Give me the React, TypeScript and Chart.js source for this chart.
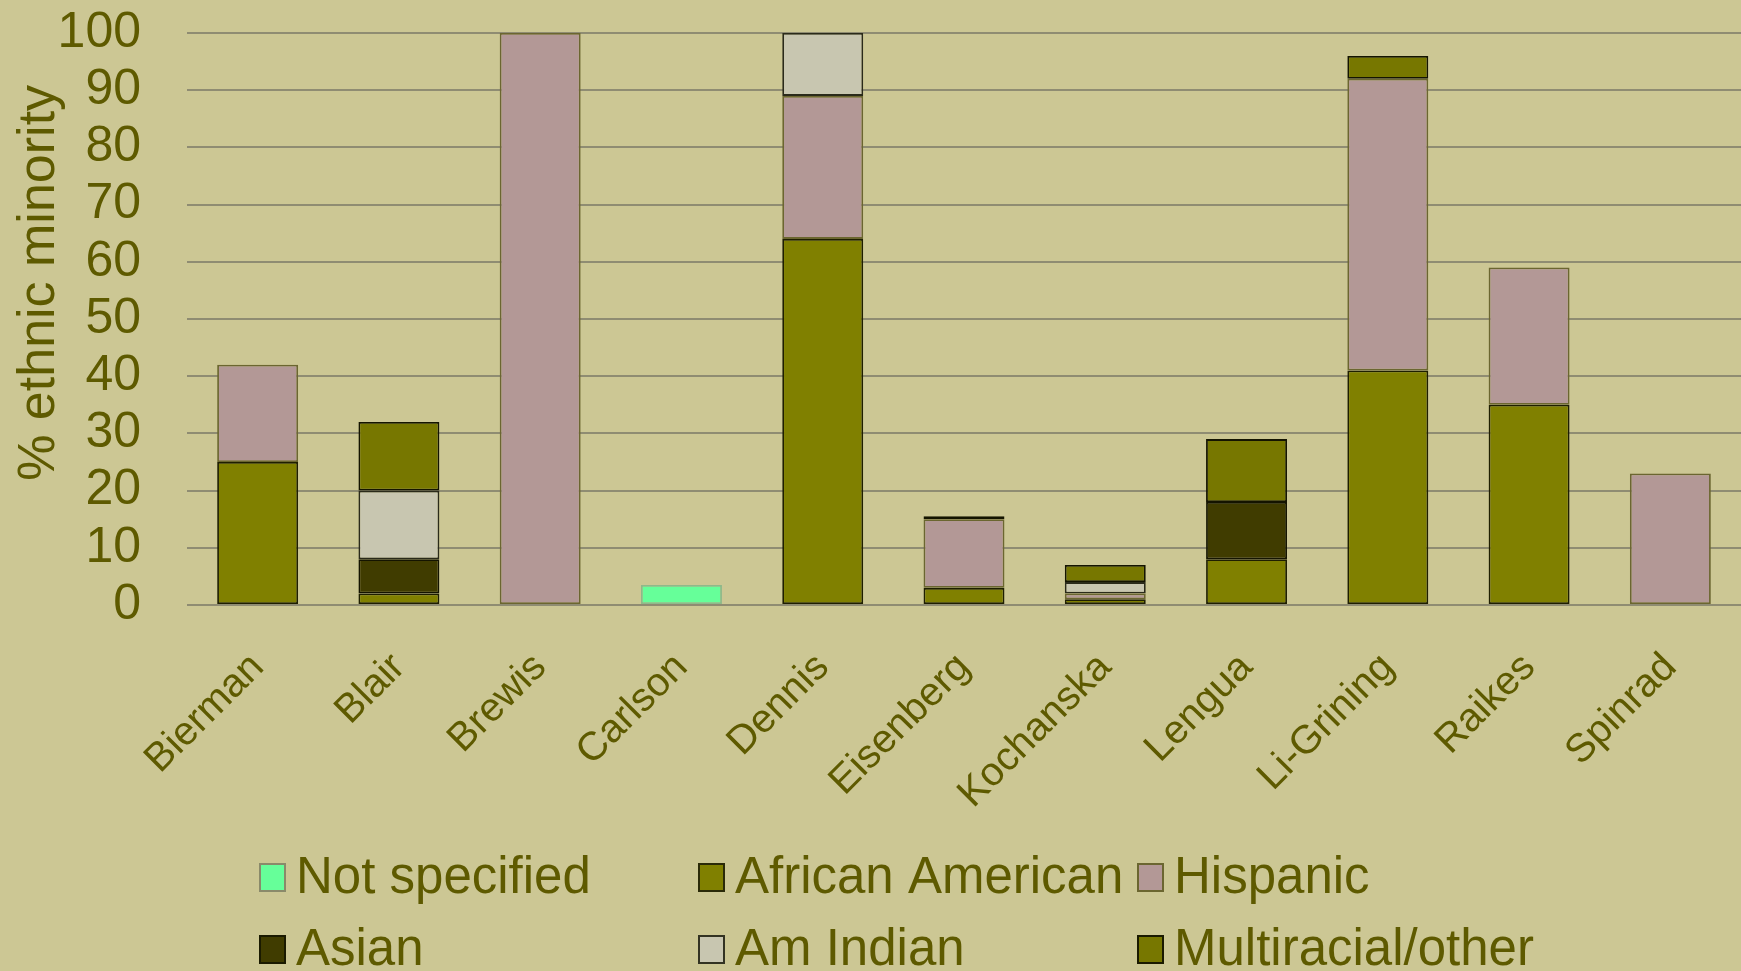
import React, { useEffect, useRef } from "react";
import { Chart, registerables } from "chart.js";

Chart.register(...registerables);

const categories = ["Bierman", "Blair", "Brewis", "Carlson", "Dennis", "Eisenberg", "Kochanska", "Lengua", "Li-Grining", "Raikes", "Spinrad"];
const notSpecified = [null, null, null, 3.5, null, null, null, null, null, null, null];
const africanAmerican = [25, 2, null, null, 64, 3, 1, 8, 41, 35, null];
const hispanic = [17, null, 100, null, 25, 12, 1, null, 51, 24, 23];
const asian = [null, 6, null, null, null, 0.5, null, 10, null, null, null];
const amIndian = [null, 12, null, null, 11, null, 2, null, null, null, null];
const multiracial = [null, 12, null, null, null, null, 3, 11, 4, null, null];
const yTicks = [0, 10, 20, 30, 40, 50, 60, 70, 80, 90, 100];

const TEXT = "#5e5a00";
const BG = "#ccc794";
const FONT = "'Liberation Sans', Arial, sans-serif";

const legendPlugin = {
  id: "gridLegend",
  afterDraw(chart: any) {
    const ctx = chart.ctx;
    const cols = [260, 699, 1138];
    const rows = [878, 950];
    ctx.save();
    ctx.font = `51px ${FONT}`;
    ctx.textBaseline = "middle";
    ctx.textAlign = "left";
    chart.data.datasets.forEach((ds: any, i: number) => {
      const x = cols[i % 3];
      const y = rows[Math.floor(i / 3)];
      ctx.fillStyle = ds.backgroundColor;
      ctx.fillRect(x, y - 14, 25, 27);
      ctx.strokeStyle = ds.legendBorder;
      ctx.lineWidth = 2;
      ctx.strokeRect(x, y - 14, 25, 27);
      ctx.fillStyle = TEXT;
      ctx.fillText(ds.label, x + 36, y + 1);
    });
    ctx.restore();
  },
};

const bgPlugin = {
  id: "bg",
  beforeDraw(chart: any) {
    const ctx = chart.ctx;
    ctx.save();
    ctx.fillStyle = BG;
    ctx.fillRect(0, 0, chart.width, chart.height);
    ctx.restore();
  },
};

export default function App() {
  const ref = useRef<HTMLCanvasElement>(null);
  useEffect(() => {
    if (!ref.current) return;
    const mk = (label: string, data: any[], bg: string, border: string, legendBorder: string) => ({
      label,
      data,
      backgroundColor: bg,
      borderColor: border,
      legendBorder,
      borderWidth: 1.8,
      borderSkipped: false,
      barPercentage: 0.573,
      categoryPercentage: 1,
    });
    const chart = new Chart(ref.current, {
      type: "bar",
      data: {
        labels: categories,
        datasets: [
          mk("Not specified", notSpecified, "#66ff99", "#8fb88a", "#8a8a6a"),
          mk("African American", africanAmerican, "#808000", "#1e1e00", "#2a2a08"),
          mk("Hispanic", hispanic, "#b39896", "#6b6630", "#6b6630"),
          mk("Asian", asian, "#403c00", "#141400", "#1a1a00"),
          mk("Am Indian", amIndian, "#c8c6b0", "#2a2a1a", "#333322"),
          mk("Multiracial/other", multiracial, "#777700", "#141400", "#1a1a00"),
        ] as any,
      },
      options: {
        animation: false,
        responsive: true,
        maintainAspectRatio: false,
        layout: { padding: { top: 33, right: 0, left: 0, bottom: 0 } },
        plugins: { legend: { display: false }, tooltip: { enabled: false } },
        scales: {
          x: {
            stacked: true,
            grid: { display: false, drawTicks: false },
            border: { display: false },
            ticks: {
              minRotation: 45,
              maxRotation: 45,
              autoSkip: false,
              padding: 39,
              color: TEXT,
              font: { family: FONT, size: 40 },
            },
            afterFit(scale: any) {
              scale.height = 366;
              scale.paddingLeft = 0;
              scale.paddingRight = 0;
            },
          },
          y: {
            stacked: true,
            min: 0,
            max: 100,
            afterBuildTicks(scale: any) {
              scale.ticks = yTicks.map((v) => ({ value: v }));
            },
            grid: { color: "#8f8c72", lineWidth: 2, drawTicks: false },
            border: { display: false },
            ticks: {
              autoSkip: false,
              padding: 46,
              color: TEXT,
              font: { family: FONT, size: 50 },
            },
            title: {
              display: true,
              text: "     % ethnic minority",
              color: TEXT,
              font: { family: FONT, size: 52 },
              padding: { top: 8, bottom: 0 },
            },
            afterFit(scale: any) {
              scale.width = 187;
              scale.paddingTop = 0;
              scale.paddingBottom = 0;
            },
          },
        },
      } as any,
      plugins: [bgPlugin, legendPlugin],
    });
    return () => chart.destroy();
  }, []);
  return (
    <div style={{ position: "fixed", left: 0, top: 0, width: 1741, height: 971, background: BG }}>
      <canvas ref={ref} />
    </div>
  );
}
